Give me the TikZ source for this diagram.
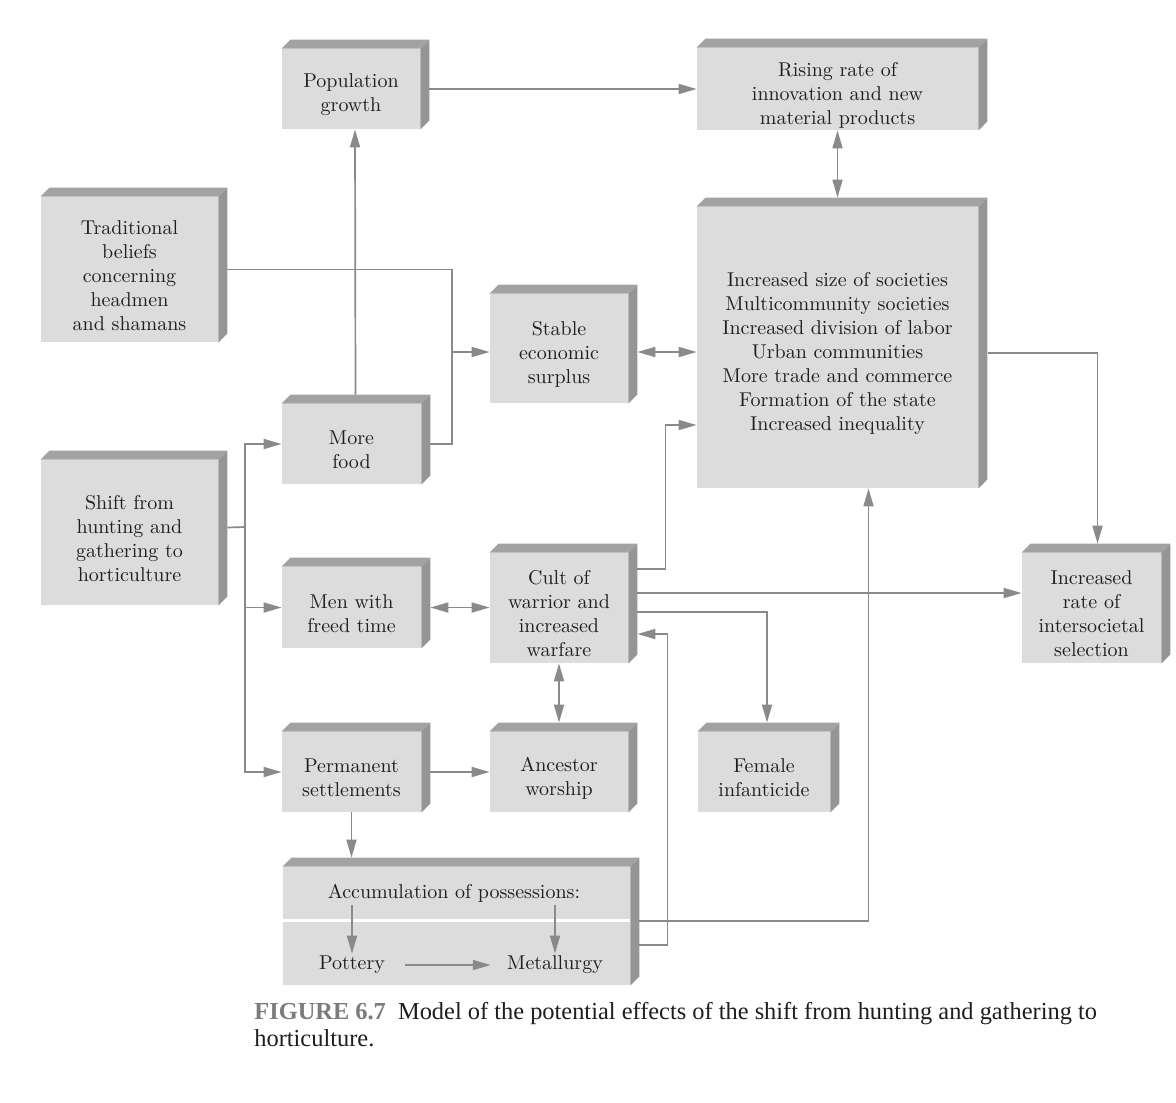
\documentclass[tikz,border=0pt]{standalone}
\usepackage{fontspec}
\newfontfamily\capfont{Liberation Serif}
\usetikzlibrary{arrows.meta}
\definecolor{boxface}{HTML}{DCDCDC}
\definecolor{boxtop}{HTML}{A2A2A2}
\definecolor{boxside}{HTML}{959595}
\definecolor{linkgray}{HTML}{8A8A8A}
\definecolor{inkgray}{HTML}{1E1E1E}
\definecolor{figgray}{HTML}{7C7C7C}
\tikzset{
  box/.style={fill=boxface, inner sep=0pt},
  boxtext/.style={inner sep=0pt, align=center, text=inkgray, font=\fontsize{10}{12}\selectfont, yshift=-3pt},
  inbox/.style={inner sep=1pt, text=inkgray, font=\fontsize{10}{12}\selectfont},
  link/.style={draw=linkgray, line width=0.85pt},
  arr/.style={link, -{Triangle[length=9pt, width=5pt]}},
  dbl/.style={link, {Triangle[length=9pt, width=5pt]}-{Triangle[length=9pt, width=5pt]}},
  totop/.style={shorten >=4.5pt}
}
\begin{document}
\begin{tikzpicture}[x=0.5pt, y=-0.5pt]
        \useasboundingbox[fill=white] (0,0) rectangle (1176,1102);
        % Boxes
        \node[box, minimum width=69pt, minimum height=40pt, label={[boxtext]center:{Population\\growth}}] (pop) at (351,89) {};
        \node[box, minimum width=140.5pt, minimum height=41pt, label={[boxtext]center:{Rising rate of\\innovation and new\\material products}}] (rise) at (837.5,89) {};
        \node[box, minimum width=88.5pt, minimum height=72.5pt, label={[boxtext]center:{Traditional\\beliefs\\concerning\\headmen\\and shamans}}] (trad) at (129.5,269.5) {};
        \node[box, minimum width=69pt, minimum height=54.5pt, label={[boxtext]center:{Stable\\economic\\surplus}}] (surplus) at (559,348.5) {};
        \node[box, minimum width=140.5pt, minimum height=140.5pt, label={[boxtext]center:{Increased size of societies\\Multicommunity societies\\Increased division of labor\\Urban communities\\More trade and commerce\\Formation of the state\\Increased inequality}}] (big) at (837.5,347.5) {};
        \node[box, minimum width=69.5pt, minimum height=40pt, label={[boxtext]center:{More\\food}}] (food) at (351.5,444) {};
        \node[box, minimum width=88.5pt, minimum height=72.5pt, label={[boxtext]center:{Shift from\\hunting and\\gathering to\\horticulture}}] (hunt) at (129.5,532.5) {};
        \node[box, minimum width=69.5pt, minimum height=40.5pt, label={[boxtext]center:{Men with\\freed time}}] (men) at (351.5,607.5) {};
        \node[box, minimum width=69pt, minimum height=55pt, label={[boxtext]center:{Cult of\\warrior and\\increased\\warfare}}] (cult) at (559,608) {};
        \node[box, minimum width=69.5pt, minimum height=55pt, label={[boxtext]center:{Increased\\rate of\\intersocietal\\selection}}] (sel) at (1091.5,608) {};
        \node[box, minimum width=69.5pt, minimum height=40pt, label={[boxtext]center:{Permanent\\settlements}}] (perm) at (351.5,772) {};
        \node[box, minimum width=69pt, minimum height=40pt, label={[boxtext]center:{Ancestor\\worship}}] (anc) at (559,772) {};
        \node[box, minimum width=66pt, minimum height=40pt, label={[boxtext]center:{Female\\infanticide}}] (fem) at (764,772) {};
        \node[box, minimum width=173.5pt, minimum height=59pt] (acc) at (456.5,926) {};
        % Box depth
        \foreach \b in {pop,rise,trad,surplus,big,food,hunt,men,cult,sel,perm,anc,fem,acc} {
          \fill[boxtop] (\b.north west) -- ++(9,-9) -- ([shift={(9,-9)}]\b.north east) -- (\b.north east) -- cycle;
          \fill[boxside] (\b.north east) -- ([shift={(9,-9)}]\b.north east) -- ([shift={(9,-9)}]\b.south east) -- (\b.south east) -- cycle;
        }
        \draw[white, line width=1.5pt] ([shift={(0,-6)}]acc.west) -- ([shift={(0,-6)}]acc.east);
        \node[inbox] (acctop) at (454,893) {Accumulation of possessions:};
        \node[inbox] (pot) at (352,965) {Pottery};
        \node[inbox] (met) at (555,965) {Metallurgy};
        % Joints
        \coordinate (tj) at (452,352);
        \coordinate (hj) at (245,527);
        % Links
        \draw[arr] ([xshift=4.5pt]pop.east) -- (rise.west);
        \draw[dbl, totop] (rise.south) -- (big.north);
        \draw[arr, shorten <=4.5pt] ([xshift=2pt]food.north) -- ([xshift=2pt]pop.south);
        \draw[link] ([xshift=4.5pt]trad.east) -| (tj);
        \draw[link] ([xshift=4.5pt]food.east) -| (tj);
        \draw[arr] (tj) -- (tj -| surplus.west);
        \draw[dbl] ([shift={(9,3.5)}]surplus.east) -- ([shift={(0,4.5)}]big.west);
        \draw[link] ([shift={(9,-5)}]hunt.east) -- (hj);
        \draw[arr] (hj) |- (food.west);
        \draw[arr] (hj) |- (men.west);
        \draw[arr] (hj) |- (perm.west);
        \draw[dbl] ([xshift=4.5pt]men.east) -- (cult.west |- men.east);
        \draw[arr] ([shift={(9,-39)}]cult.east) -- ++(28,0) |- ([shift={(0,77.5)}]big.west);
        \draw[arr] ([shift={(9,-15)}]cult.east) -- ([shift={(0,-15)}]sel.west);
        \draw[arr, totop] ([shift={(9,4)}]cult.east) -| ([xshift=1.5pt]fem.north);
        \draw[arr, totop] ([shift={(10,5.5)}]big.east) -| ([xshift=3pt]sel.north);
        \draw[dbl, totop] (cult.south) -- (anc.north);
        \draw[arr] ([xshift=4.5pt]perm.east) -- (anc.west);
        \draw[arr, totop] (perm.south) -- (perm.south |- acc.north);
        \draw[arr] ([shift={(9,-5)}]acc.east) -| ([xshift=15.5pt]big.south);
        \draw[arr] ([shift={(9,19)}]acc.east) -- ++(28,0) |- ([shift={(9,26)}]cult.east);
        \draw[arr] (acctop.south -| pot) -- (pot.north);
        \draw[arr] (acctop.south -| met) -- (met.north);
        \draw[arr, shorten <=9pt, shorten >=7pt] (pot) -- (met);
        % Caption
        \node[anchor=north west, inner sep=0pt, align=left, text=inkgray, font=\capfont\fontsize{12.2}{13.5}\selectfont] (cap) at (254,1002) {{\color{figgray}\textbf{FIGURE 6.7}}\enspace Model of the potential effects of the shift from hunting and gathering to\\horticulture.};
    \end{tikzpicture}
\end{document}
